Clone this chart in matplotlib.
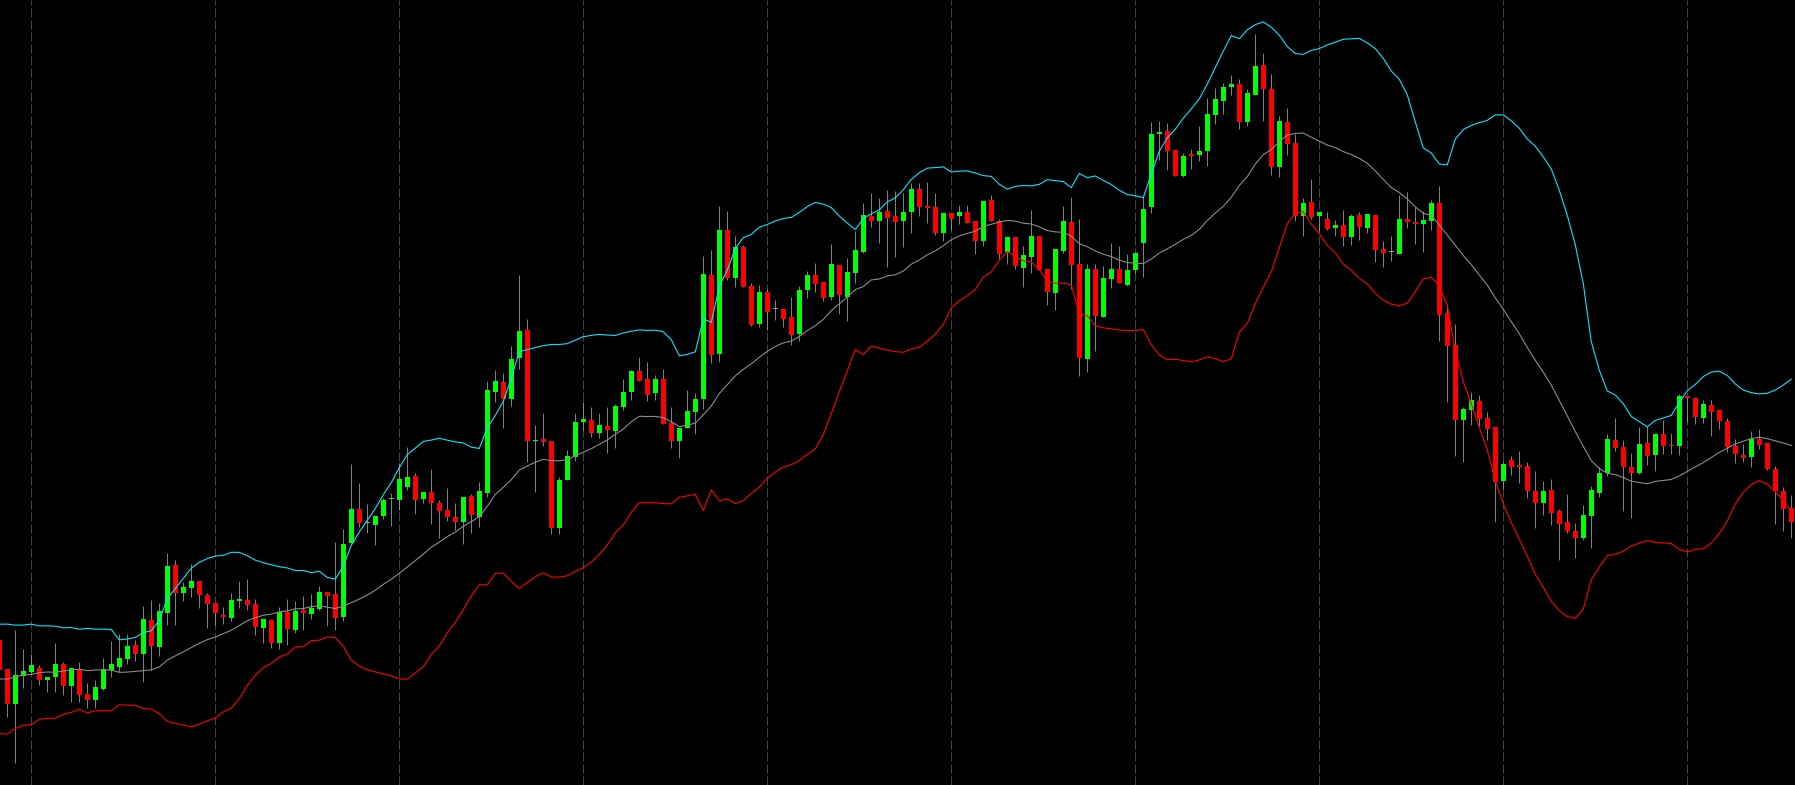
import numpy as np
import pandas as pd
import matplotlib
matplotlib.use('Agg')
import matplotlib.pyplot as plt

# closes before the first visible bar (only feed the bollinger window)
prior_close = [100, 80, 95, 120, 85, 110, 140, 90, 112, 90, 128, 100, 130, 140, 185, 150, 132, 165, 140]

# visible bars, open / high / low / close
opens = [160, 131, 96, 124, 128, 132, 120, 123, 136, 114, 130, 106, 100, 111, 130, 133, 141, 155, 146, 180,
         153, 187, 235, 207, 212, 219, 205, 197, 185, 182, 199, 200, 196, 172, 180, 157, 188, 170, 190, 186,
         191, 208, 206, 183, 257, 291, 277, 275, 284, 301, 300, 313, 324, 301, 308, 297, 290, 283, 278, 304,
         283, 307, 408, 418, 401, 442, 470, 359.5, 361, 359, 272, 320, 343, 378, 380, 367, 374, 369, 393, 408,
         429, 421, 407, 421, 377, 359, 372, 388, 401, 525, 446, 570, 522, 553, 514, 476, 508, 491, 491, 483,
         466, 510, 525, 518, 503, 535, 503, 527, 548, 584, 579, 589, 584, 579, 588, 611, 594, 593, 567, 587,
         584, 588, 579, 559, 600, 579, 548, 563, 532, 543, 564, 531, 507, 549, 578, 536, 441, 531, 483, 521,
         531, 515, 530, 557, 593, 666, 669, 650, 624, 646, 645, 649, 685, 699, 713, 716, 678, 705, 735, 711,
         633, 678, 657, 584, 598, 584, 581, 572, 575, 563, 585, 572, 585, 551, 548, 546, 581, 578, 576, 579,
         597, 487, 455, 380, 390, 399, 382, 373, 319, 340, 335, 334, 309, 297, 310, 289, 278, 269, 262, 284,
         307, 327, 360, 353, 333, 327, 357, 345, 366, 355, 354, 404, 402, 382, 395, 390, 379, 354, 345, 343,
         361, 357, 331, 309, 292]
highs = [165, 131, 170, 151, 146, 135, 123, 157, 138, 132, 138, 117, 120, 142, 159, 166, 166, 160, 194, 200,
         197, 247, 240, 218, 236, 219, 207, 197, 193, 207, 219, 221, 201, 181, 180, 193, 201, 199, 204, 206,
         214, 208, 258, 271, 336, 317, 296, 284, 302, 307, 337, 353, 327, 308, 331, 300, 312, 297, 303, 306,
         318, 419, 430, 427, 454, 525, 481, 375, 387, 359, 323, 350, 387, 398, 393, 387, 393, 396, 421, 430,
         443, 438, 425, 431, 393, 372, 410, 407, 544, 550, 594, 589, 564, 555, 517, 515, 511, 500, 491, 503,
         514, 529, 537, 518, 556, 535, 542, 569, 597, 607, 602, 610, 609, 607, 617, 617, 618, 607, 587, 587,
         595, 595, 579, 599, 605, 581, 563, 563, 554, 590, 564, 531, 551, 594, 603, 581, 536, 536, 534, 557,
         554, 546, 547, 603, 678, 679, 677, 650, 647, 651, 674, 702, 712, 717, 725, 721, 711, 766, 747, 726,
         684, 692, 666, 602, 621, 588, 588, 580, 590, 586, 588, 586, 585, 559, 564, 605, 608, 593, 589, 600,
         614, 496, 476, 393, 408, 405, 388, 373, 339, 344, 349, 338, 329, 319, 321, 291, 306, 277, 295, 314,
         333, 366, 382, 360, 347, 373, 374, 367, 380, 367, 406, 404, 403, 400, 400, 390, 382, 361, 356, 369,
         371, 357, 334, 313, 305]
lows = [125, 83, 37, 112, 127, 115, 108, 108, 105, 98, 98, 92, 92, 110, 123, 128, 136, 139, 118, 130,
        144, 175, 175, 199, 203, 192, 172, 175, 176, 179, 192, 190, 165, 157, 152, 151, 155, 167, 170, 181,
        190, 174, 170, 179, 257, 273, 267, 255, 281, 274, 290, 310, 286, 297, 276, 262, 279, 270, 256, 267,
        273, 303, 398, 372, 394, 431, 338, 308, 354, 266, 266, 320, 339, 370, 363, 362, 347, 352, 390, 400,
        419, 399, 400, 376, 352, 342, 372, 366, 391, 437, 438, 520, 513, 513, 474, 473, 470, 480, 473, 455,
        459, 502, 508, 499, 500, 486, 479, 517, 547, 573, 557, 533, 543, 553, 567, 584, 577, 565, 559, 570,
        576, 577, 546, 554, 579, 541, 536, 531, 513, 527, 530, 495, 490, 547, 511, 424, 428, 449, 483, 512,
        517, 514, 527, 523, 587, 640, 630, 624, 623, 631, 639, 634, 676, 686, 705, 671, 674, 705, 679, 625,
        623, 645, 579, 564, 581, 569, 570, 564, 554, 555, 560, 567, 538, 533, 539, 546, 572, 556, 548, 570,
        459, 398, 344, 338, 375, 374, 360, 278, 311, 325, 317, 302, 272, 285, 275, 240, 267, 242, 260, 252,
        303, 324, 349, 289, 282, 326, 335, 329, 346, 346, 345, 378, 376, 377, 364, 371, 348, 337, 338, 333,
        351, 330, 276, 269, 262]
closes = [130, 96, 125, 129, 135, 120, 123, 136, 114, 132, 105, 100, 113, 131, 136, 142, 154, 146, 181, 154,
          189, 234, 207, 213, 219, 205, 196, 187, 183, 200, 201, 195, 173, 181, 157, 188, 171, 189, 187, 192,
          208, 204, 182, 256, 291, 277, 277, 284, 300, 301, 321, 323, 300, 308, 297, 289, 283, 278, 303, 285,
          309, 410, 419, 401, 441, 469, 359, 360.5, 358, 272, 320, 344, 378, 381, 367, 375, 370, 394, 408, 429,
          419, 405, 421, 376, 359, 372, 389, 401, 526, 445, 570, 522, 553, 513, 475, 508, 488, 491, 481, 465,
          510, 525, 516, 502, 536, 505, 528, 550, 585, 579, 588, 582, 578, 588, 611, 593, 592, 567, 587, 581,
          588, 577, 559, 599, 579, 546, 563, 534, 545, 564, 530, 508, 551, 579, 535, 442, 531, 484, 522, 531,
          517, 530, 547, 591, 666, 668, 649, 624, 644, 644, 649, 686, 701, 713, 716, 678, 707, 734, 711, 633,
          679, 656, 584, 597, 583, 588, 571, 575, 563, 584, 573, 586, 550, 547, 548, 581, 578, 576, 580, 597,
          485, 454, 380, 391, 400, 381, 371, 318, 336, 333, 333, 309, 297, 309, 287, 276, 269, 262, 285, 310,
          327, 361, 352, 333, 327, 356, 344, 366, 354, 354, 404, 402, 383, 396, 388, 379, 353, 346, 342, 361,
          355, 331, 309, 291, 278]

# bars where the chart's time grid falls
grid_bars = [3, 26, 49, 72, 95, 118, 141, 164, 187, 210]

period = 20
dev = 2

o = np.array(opens, dtype=float)
h = np.array(highs, dtype=float)
l = np.array(lows, dtype=float)
c = np.array(closes, dtype=float)
x = np.arange(-1, len(c) - 1)

s = pd.Series(prior_close + closes, dtype=float)
mid = s.rolling(period).mean()
sd = s.rolling(period).std(ddof=0)
n0 = len(prior_close)
mid = mid.values[n0:]
upper = mid + dev * sd.values[n0:]
lower = mid - dev * sd.values[n0:]

fig = plt.figure(figsize=(17.95, 7.85), dpi=100, facecolor='black')
ax = fig.add_axes([0, 0, 1, 1])
ax.set_facecolor('black')

for g in grid_bars:
    ax.axvline(g, color='#444444', lw=0.72, ls=(0, (9, 3)), zorder=0)

ax.vlines(x, l, h, color='#9a9a9a', lw=0.6, zorder=1)

body = c - o
colors = np.where(body > 0, '#00ff00', np.where(body < 0, '#ff0000', '#9a9a9a'))
height = np.where(np.abs(body) < 1, 1, body)
ax.bar(x, height, bottom=o, width=0.625, color=colors, zorder=2, antialiased=False)

ax.plot(x, upper, color='#00e8ff', lw=0.8, zorder=3)
ax.plot(x, mid, color='#8c8c8c', lw=0.8, zorder=3)
ax.plot(x, lower, color='#ff0000', lw=0.8, zorder=3)

ax.set_xlim(-0.9125, 223.4625)
ax.set_ylim(15, 800)
ax.set_xticks([])
ax.set_yticks([])
for sp in ax.spines.values():
    sp.set_visible(False)

fig.savefig('out.png', dpi=100, facecolor='black')
